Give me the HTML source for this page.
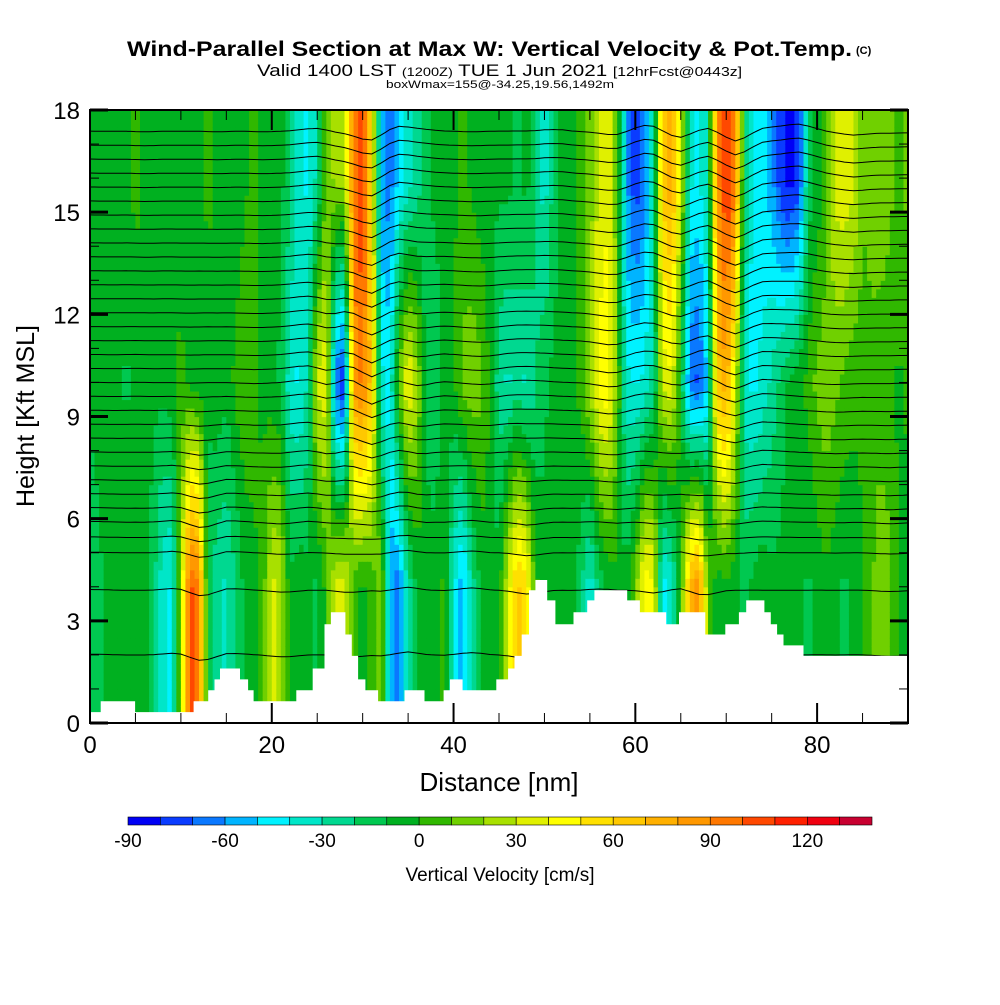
<!DOCTYPE html>
<html><head><meta charset="utf-8"><style>
body{margin:0;background:#fff;}
svg text{font-family:"Liberation Sans",sans-serif;}
</style></head><body>
<svg id="chart" width="1000" height="1000" viewBox="0 0 1000 1000" xmlns="http://www.w3.org/2000/svg">
<rect width="1000" height="1000" fill="#fff"/>
<text x="127" y="56" font-size="21" font-weight="bold" textLength="725" lengthAdjust="spacingAndGlyphs">Wind-Parallel Section at Max W: Vertical Velocity &amp; Pot.Temp.</text>
<text x="856" y="54" font-size="11" font-weight="bold">(C)</text>
<text x="257" y="76" font-size="17" textLength="485" lengthAdjust="spacingAndGlyphs">Valid 1400 LST <tspan font-size="12">(1200Z)</tspan> TUE 1 Jun 2021 <tspan font-size="13">[12hrFcst@0443z]</tspan></text>
<text x="386" y="88" font-size="11" textLength="228" lengthAdjust="spacingAndGlyphs">boxWmax=155@-34.25,19.56,1492m</text>
<g id="field"></g>
<g id="contours" fill="none" stroke="#000" stroke-width="1"></g>
<g id="terrain"></g>
<g id="axes"></g>
<text x="499" y="791" text-anchor="middle" font-size="26">Distance [nm]</text>
<text transform="translate(34,416) rotate(-90)" text-anchor="middle" font-size="25">Height [Kft MSL]</text>
<g id="colorbar"></g>
<text x="500" y="881" text-anchor="middle" font-size="19">Vertical Velocity [cm/s]</text>
</svg>
<script>
const upperW=[0,5,0,0,5,10,5,0,0,5,0,0,5,10,5,0,0,5,10,5,0,0,-10,-30,-35,-20,20,30,30,100,120,60,-50,-60,-40,-30,-20,-5,0,0,5,10,5,0,0,0,0,-5,0,-10,-30,-10,0,5,10,20,40,45,20,-50,-70,-60,-20,70,85,40,-30,-35,-20,90,120,100,-10,-40,-40,-50,-70,-80,-70,-10,0,10,40,45,40,20,20,25,20,15,20];
const midW=[0,0,5,0,-5,0,5,0,0,5,10,5,0,0,5,0,10,15,10,5,0,-5,-30,-35,-20,40,45,-60,-75,90,100,70,-30,-35,20,50,30,-10,-10,0,5,20,25,20,5,-20,-25,-20,-25,-15,-5,0,0,5,10,30,50,55,20,-30,-35,-30,-20,40,45,0,-60,-65,-40,70,85,40,-30,-35,-30,-20,-10,0,5,10,20,25,20,15,10,10,15,10,10,5,10];
const lowW=[-10,-5,0,0,5,0,0,-10,-30,-35,30,110,100,-10,-20,-25,-15,0,5,10,40,35,0,5,0,-5,10,40,45,10,5,10,30,-50,-60,-20,0,5,0,10,-30,-50,-20,0,5,0,40,70,60,10,0,5,0,5,-10,-30,-10,0,5,0,20,55,50,-40,-30,10,80,95,20,0,5,0,-5,0,5,0,0,5,0,-5,0,5,0,-5,0,5,15,25,20,5,0];
const terrainStartNm=[0,1.18,4.96,11.4,13.0,13.7,14.3,16.5,17.4,18.0,22.7,24.5,25.8,26.5,28.1,28.8,29.5,30.3,31.7,34.6,36.8,38.9,39.6,41.0,44.7,46.0,46.7,47.5,48.3,49.0,50.3,51.2,53.2,54.7,55.5,59.1,60.5,63.4,64.8,67.7,69.9,71.4,72.2,74.2,74.9,75.6,76.3,78.5];
const terrainKft=[0.32,0.64,0.32,0.64,0.96,1.28,1.6,1.28,0.96,0.64,0.96,1.6,2.9,3.25,2.6,1.97,1.28,0.96,0.64,0.96,0.64,0.96,1.28,0.96,1.28,1.6,1.97,2.6,3.9,4.2,3.6,2.9,3.25,3.6,3.9,3.6,3.25,2.9,3.25,2.6,2.9,3.25,3.6,3.25,2.9,2.6,2.28,1.97];
const xTicks=[0,20,40,60,80];
const yTicks=[0,3,6,9,12,15,18];
const cbLabels=[-90,-60,-30,0,30,60,90,120];
const cbColors=['#0000f5','#0a3cff','#0a78ff','#00b4ff','#00f2ff','#00e6c8','#00d890','#00c850','#00b020','#30b800','#70d000','#a8e000','#e0f000','#ffff00','#ffe000','#ffc800','#ffb000','#ff9800','#ff7800','#ff4800','#ff2000','#f00010','#c80030'];
const contourLevels=[];for(let k=0;k<29;k++)contourLevels.push(5.9+k*0.41);
const lowContours=[5.45,5.0,3.9,2.0];

const NS='http://www.w3.org/2000/svg';
const X0=90,X1=908,Y0=723,Y1=110;
const sx=nm=>X0+(nm/90)*(X1-X0);
const sy=k=>Y0-(k/18)*(Y0-Y1);
function el(t,a,p){const e=document.createElementNS(NS,t);for(const k in a)e.setAttribute(k,a[k]);p.appendChild(e);return e;}
function rowVal(arr,x){const i=Math.max(0,Math.min(89.999,x));const f=Math.floor(i);const t=i-f;return arr[f]*(1-t)+arr[f+1]*t;}
function wAt(x,z){
  const u=rowVal(upperW,x),m=rowVal(midW,x),l=rowVal(lowW,x);
  if(z>=16)return u;if(z>=10){const t=(z-10)/6;return m*(1-t)+u*t;}
  if(z>=4){const t=(z-4)/6;return l*(1-t)+m*t;}return l;}
function colorFor(w){let i=Math.floor((w-7+90)/10);i=Math.max(0,Math.min(cbColors.length-1,i));return cbColors[i];}
const field=document.getElementById('field');
const dx=0.5,dz=0.25;
for(let x=0;x<90;x+=dx){for(let z=0;z<18;z+=dz){
  const r=el('rect',{x:sx(x).toFixed(2),y:sy(z+dz).toFixed(2),width:(sx(dx)-X0+0.6).toFixed(2),height:(Y0-sy(dz)+0.6).toFixed(2),fill:colorFor(wAt(x+dx/2,z+dz/2))},field);
  
  
}}
const cg=document.getElementById('contours');
function drawContour(z0,amp){
  let d='';for(let x=0;x<=90;x+=0.5){
    let s=0;for(let k=-2;k<=0;k++)s+=wAt(Math.max(0,x+k),z0);s/=3;
    const z=z0-amp*s;d+=(x===0?'M':'L')+sx(x).toFixed(1)+','+sy(Math.min(18,z)).toFixed(1);}
  const p=el('path',{d:d},cg);
  
  
}
contourLevels.forEach(z=>drawContour(z,0.0028));
lowContours.forEach(z=>drawContour(z,0.002));
const tg=document.getElementById('terrain');
let td='M'+sx(0)+','+sy(0);
for(let i=0;i<terrainStartNm.length;i++){const xe=i+1<terrainStartNm.length?terrainStartNm[i+1]:90;td+='L'+sx(terrainStartNm[i]).toFixed(1)+','+sy(terrainKft[i]).toFixed(1)+'L'+sx(xe).toFixed(1)+','+sy(terrainKft[i]).toFixed(1);}
td+='L'+sx(90)+','+sy(0)+'Z';
const tp=el('path',{d:td,fill:'#fff',stroke:'none'},tg);


const ax=document.getElementById('axes');
const fr=el('rect',{x:X0,y:Y1,width:X1-X0,height:Y0-Y1,fill:'none',stroke:'#000','stroke-width':2},ax);


for(let v=0;v<=90;v+=5){const major=v%20===0;const L=major?20:10;
  el('line',{x1:sx(v),x2:sx(v),y1:Y0,y2:Y0-L,stroke:'#000','stroke-width':major?2:1},ax);
  el('line',{x1:sx(v),x2:sx(v),y1:Y1,y2:Y1+L,stroke:'#000','stroke-width':major?2:1},ax);}
for(let v=0;v<=18;v++){const major=v%3===0;const L=major?18:9;
  el('line',{x1:X0,x2:X0+L,y1:sy(v),y2:sy(v),stroke:'#000','stroke-width':major?3:1},ax);
  el('line',{x1:X1,x2:X1-L,y1:sy(v),y2:sy(v),stroke:'#000','stroke-width':major?3:1},ax);}
xTicks.forEach(v=>{const t=el('text',{x:sx(v),y:753,'text-anchor':'middle','font-size':24},ax);t.textContent=v;
  
  });
yTicks.forEach(v=>{const t=el('text',{x:80,y:sy(v)+9,'text-anchor':'end','font-size':24},ax);t.textContent=v;
  
  });
const cb=document.getElementById('colorbar');
const CB0=128,CBW=(872-128)/cbColors.length;
cbColors.forEach((c,i)=>{const r=el('rect',{x:CB0+i*CBW,y:817,width:CBW,height:8,fill:c,stroke:'#000','stroke-width':0.6},cb);
  
  });
cbLabels.forEach(v=>{const t=el('text',{x:CB0+(v+90)/10*CBW,y:847,'text-anchor':'middle','font-size':19},cb);t.textContent=v;
  
  });
</script>
</body></html>
